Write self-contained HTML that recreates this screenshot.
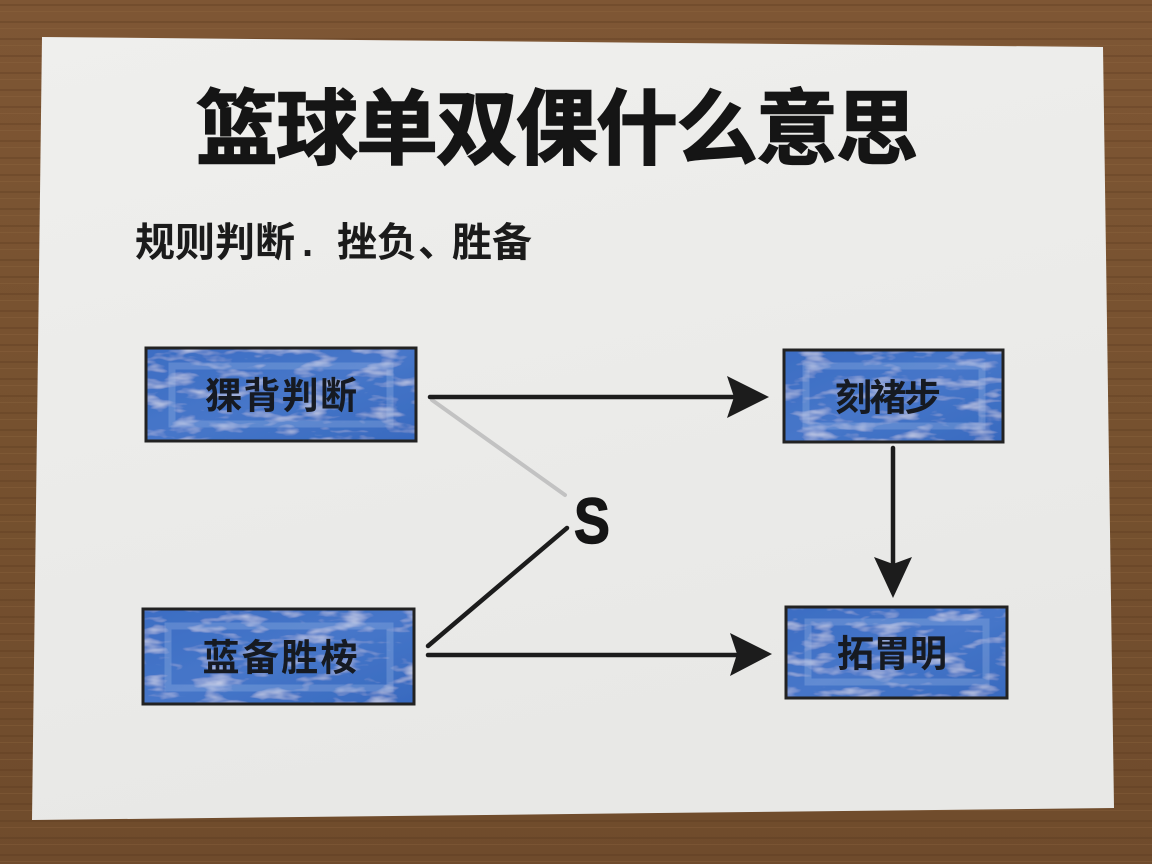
<!DOCTYPE html>
<html>
<head>
<meta charset="utf-8">
<style>
  html,body{margin:0;padding:0;width:1152px;height:864px;overflow:hidden;background:#76512f;}
  svg{display:block;}
  .cjk{font-family:"Liberation Sans","Noto Sans CJK SC","WenQuanYi Zen Hei",sans-serif;font-weight:700;}
</style>
</head>
<body>
<svg width="1152" height="864" viewBox="0 0 1152 864" xmlns="http://www.w3.org/2000/svg">
  <defs>
    <linearGradient id="wood" x1="0" y1="0" x2="0" y2="1">
      <stop offset="0" stop-color="#7e5634"/>
      <stop offset="0.5" stop-color="#76512f"/>
      <stop offset="1" stop-color="#6f4b2c"/>
    </linearGradient>
    <pattern id="grain" width="1152" height="17" patternUnits="userSpaceOnUse">
      <rect y="4" width="1152" height="2" fill="#5a3a1f" opacity="0.3"/>
      <rect y="11" width="1152" height="1" fill="#946b44" opacity="0.3"/>
    </pattern>
    <linearGradient id="paper" x1="0" y1="0" x2="0.3" y2="1">
      <stop offset="0" stop-color="#efefed"/>
      <stop offset="1" stop-color="#e8e8e6"/>
    </linearGradient>
    <filter id="crayon" x="0" y="0" width="100%" height="100%">
      <feTurbulence type="fractalNoise" baseFrequency="0.03 0.09" numOctaves="3" seed="7" result="n"/>
      <feColorMatrix in="n" type="matrix" values="0 0 0 0 1  0 0 0 0 1  0 0 0 0 1  0 0 0 1.2 -0.62" result="w"/>
      <feComposite in="w" in2="SourceGraphic" operator="in" result="wm"/>
      <feMerge><feMergeNode in="SourceGraphic"/><feMergeNode in="wm"/></feMerge>
    </filter>
    <linearGradient id="blue" x1="0" y1="0" x2="1" y2="1">
      <stop offset="0" stop-color="#3c6dc3"/>
      <stop offset="0.5" stop-color="#4676c9"/>
      <stop offset="1" stop-color="#386abf"/>
    </linearGradient>
  </defs>

  <!-- wood table -->
  <rect width="1152" height="864" fill="url(#wood)"/>
  <rect width="1152" height="864" fill="url(#grain)"/>

  <!-- paper -->
  <polygon points="42,37 1103,47 1114,808 32,820" fill="url(#paper)"/>

  <!-- title -->
  <text class="cjk" x="557" y="130" font-size="82" text-anchor="middle" dominant-baseline="central" fill="#151515" stroke="#151515" stroke-width="1.5" textLength="722" lengthAdjust="spacing">篮球单双倮什么意思</text>

  <!-- subtitle -->
  <g class="cjk" font-size="40" fill="#1b1b1b">
    <text x="135" y="243" dominant-baseline="central">规则判断</text>
    <text x="302" y="243" dominant-baseline="central">.</text>
    <text x="337" y="243" dominant-baseline="central">挫负</text>
    <text x="418" y="243" dominant-baseline="central">、</text>
    <text x="452" y="243" dominant-baseline="central">胜备</text>
  </g>

  <!-- boxes -->
  <g filter="url(#crayon)">
    <rect x="146" y="348" width="270" height="93" fill="url(#blue)"/>
    <rect x="784" y="350" width="219" height="92" fill="url(#blue)"/>
    <rect x="143" y="609" width="271" height="95" fill="url(#blue)"/>
    <rect x="786" y="607" width="221" height="91" fill="url(#blue)"/>
  </g>
  <!-- lighter inner crayon streaks -->
  <g fill="none" stroke="#a9c1ea" stroke-width="7" opacity="0.28">
    <rect x="172" y="366" width="218" height="58"/>
    <rect x="806" y="366" width="176" height="60"/>
    <rect x="168" y="626" width="222" height="62"/>
    <rect x="808" y="622" width="178" height="60"/>
  </g>
  <g fill="none" stroke="#222" stroke-width="3">
    <rect x="146" y="348" width="270" height="93"/>
    <rect x="784" y="350" width="219" height="92"/>
    <rect x="143" y="609" width="271" height="95"/>
    <rect x="786" y="607" width="221" height="91"/>
  </g>

  <!-- box labels -->
  <g class="cjk" font-size="37" fill="#161a22">
    <text x="281" y="396" text-anchor="middle" dominant-baseline="central" textLength="152" lengthAdjust="spacing">猓背判断</text>
    <text x="888" y="398" text-anchor="middle" dominant-baseline="central" textLength="106" lengthAdjust="spacing">刻褚步</text>
    <text x="280" y="658" text-anchor="middle" dominant-baseline="central" textLength="155" lengthAdjust="spacing">蓝备胜桉</text>
    <text x="892" y="654" text-anchor="middle" dominant-baseline="central" textLength="110" lengthAdjust="spacing">拓胃明</text>
  </g>

  <!-- connectors -->
  <line x1="432" y1="400" x2="565" y2="495" stroke="#c2c2c2" stroke-width="4" stroke-linecap="round"/>
  <line x1="428" y1="646" x2="567" y2="528" stroke="#1c1c1c" stroke-width="4.5" stroke-linecap="round"/>

  <line x1="430" y1="397" x2="735" y2="397" stroke="#1c1c1c" stroke-width="4.5" stroke-linecap="round"/>
  <polygon points="727,376 769,397 727,418 734,397" fill="#1c1c1c"/>

  <line x1="428" y1="655" x2="736" y2="655" stroke="#1c1c1c" stroke-width="4.5" stroke-linecap="round"/>
  <polygon points="730,633 772,654 730,676 737,654" fill="#1c1c1c"/>

  <line x1="893" y1="448" x2="893" y2="566" stroke="#1c1c1c" stroke-width="4.5" stroke-linecap="round"/>
  <polygon points="874,557 893,598 912,557 893,564" fill="#1c1c1c"/>

  <!-- S label -->
  <text x="592" y="521" font-family="'Liberation Sans','DejaVu Sans',sans-serif" font-weight="700" font-size="64" fill="#151515" stroke="#151515" stroke-width="1.5" text-anchor="middle" dominant-baseline="central" transform="translate(592 0) scale(0.84 1) translate(-592 0)">S</text>
</svg>
</body>
</html>
